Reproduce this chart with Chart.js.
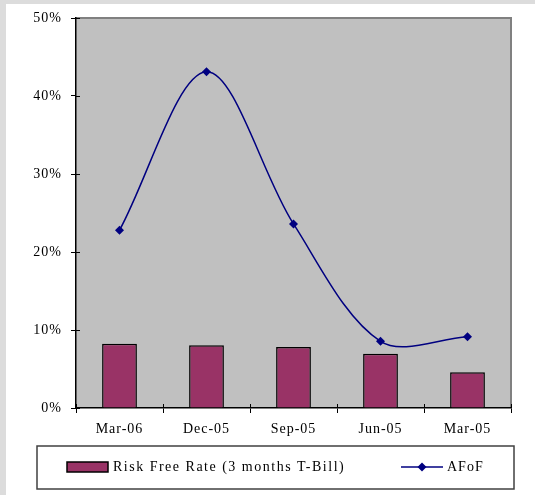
<!DOCTYPE html>
<html>
<head>
<meta charset="utf-8">
<script src="https://cdn.jsdelivr.net/npm/chart.js@4/dist/chart.umd.min.js"></script>
<style>
  html, body { margin: 0; padding: 0; background: #ffffff; }
  #wrap { width: 535px; height: 495px; }
</style>
</head>
<body>
<div id="wrap"><canvas id="c" width="535" height="495"></canvas></div>
<script>
// Quarter-end dates, newest first
const categories = ['Mar-06', 'Dec-05', 'Sep-05', 'Jun-05', 'Mar-05'];
// 3-month T-Bill yield (%)
const riskFreeRate = [8.24, 8.03, 7.82, 6.96, 4.58];
// AFoF return (%)
const afof = [22.8, 43.1, 23.6, 8.55, 9.14];
// Value axis ticks (%)
const yTicks = [0, 10, 20, 30, 40, 50];

const seriesNames = ['Risk Free Rate (3 months T-Bill)', 'AFoF'];
const FONT = '"Liberation Serif", "Times New Roman", serif';

// Page frame, grey plot area, crossing tick marks and the boxed legend
const frame = {
  id: 'frame',
  beforeDraw(chart) {
    const ctx = chart.ctx, a = chart.chartArea;
    ctx.save();
    ctx.fillStyle = '#dcdcdc';
    ctx.fillRect(0, 0, chart.width, chart.height);
    ctx.fillStyle = '#ffffff';
    ctx.fillRect(6, 4, chart.width - 6, chart.height - 4);
    ctx.fillStyle = '#c0c0c0';
    ctx.fillRect(a.left, a.top, a.right - a.left, a.bottom - a.top);
    ctx.strokeStyle = '#808080';
    ctx.lineWidth = 2;
    ctx.beginPath();
    ctx.moveTo(a.left, a.top);
    ctx.lineTo(a.right, a.top);
    ctx.lineTo(a.right, a.bottom);
    ctx.stroke();
    ctx.restore();
    // wide-set lettering used by all chart text
    ctx.letterSpacing = '1px';
  },
  afterDatasetsDraw(chart) {
    const ctx = chart.ctx, a = chart.chartArea;
    const ys = chart.scales.y;
    ctx.save();
    ctx.strokeStyle = '#000000';
    ctx.lineWidth = 1;
    ctx.beginPath();
    yTicks.forEach(v => {
      const y = Math.round(ys.getPixelForValue(v)) + 0.5;
      ctx.moveTo(a.left, y);
      ctx.lineTo(a.left + 4, y);
    });
    const step = (a.right - a.left) / categories.length;
    for (let i = 0; i <= categories.length; i++) {
      const x = Math.round(a.left + i * step) + 0.5;
      ctx.moveTo(x, a.bottom - 4);
      ctx.lineTo(x, a.bottom);
    }
    ctx.stroke();
    ctx.restore();
  },
  afterDraw(chart) {
    const ctx = chart.ctx;
    const ds = chart.data.datasets;
    const bar = ds.find(d => d.type === 'bar');
    const line = ds.find(d => d.type === 'line');
    ctx.save();
    // legend box
    ctx.strokeStyle = '#404040';
    ctx.lineWidth = 1.5;
    ctx.strokeRect(37, 446, 477, 43);
    // bar swatch
    ctx.fillStyle = bar.backgroundColor;
    ctx.fillRect(67, 462, 41, 10);
    ctx.strokeStyle = '#000000';
    ctx.lineWidth = 1.5;
    ctx.strokeRect(67, 462, 41, 10);
    // line swatch
    ctx.strokeStyle = line.borderColor;
    ctx.lineWidth = 1.5;
    ctx.beginPath();
    ctx.moveTo(401, 467);
    ctx.lineTo(443, 467);
    ctx.stroke();
    ctx.fillStyle = line.backgroundColor;
    ctx.beginPath();
    ctx.moveTo(422, 462.5);
    ctx.lineTo(426.5, 467);
    ctx.lineTo(422, 471.5);
    ctx.lineTo(417.5, 467);
    ctx.closePath();
    ctx.fill();
    // labels
    ctx.fillStyle = '#000000';
    ctx.font = '14px ' + FONT;
    ctx.textBaseline = 'middle';
    ctx.textAlign = 'left';
    ctx.letterSpacing = '1.5px';
    ctx.fillText(bar.label, 113, 467);
    ctx.letterSpacing = '1px';
    ctx.fillText(line.label, 447, 467);
    ctx.restore();
  }
};

new Chart(document.getElementById('c'), {
  type: 'bar',
  data: {
    labels: categories,
    datasets: [
      {
        type: 'line',
        label: seriesNames[1],
        data: afof,
        borderColor: '#000080',
        backgroundColor: '#000080',
        borderWidth: 1.5,
        pointStyle: 'rectRot',
        pointRadius: 4.5,
        pointBorderWidth: 0,
        tension: 0.33,
        order: 1
      },
      {
        type: 'bar',
        label: seriesNames[0],
        data: riskFreeRate,
        backgroundColor: '#993366',
        borderColor: '#000000',
        borderWidth: 1.5,
        categoryPercentage: 1,
        barPercentage: 0.4,
        order: 2
      }
    ]
  },
  options: {
    responsive: false,
    animation: false,
    devicePixelRatio: 1,
    layout: { padding: { left: 0, top: 18, right: 24, bottom: 0 } },
    plugins: { legend: { display: false }, tooltip: { enabled: false } },
    scales: {
      x: {
        offset: true,
        grid: { offset: true, drawOnChartArea: false, color: '#000000', tickLength: 5, lineWidth: 1 },
        border: { color: '#000000', width: 1.5 },
        ticks: { color: '#000000', font: { family: FONT, size: 14 }, padding: 8, maxRotation: 0 },
        afterFit(scale) { scale.height = 87; }
      },
      y: {
        min: 0,
        max: 50,
        afterBuildTicks(scale) { scale.ticks = yTicks.map(v => ({ value: v })); },
        grid: { drawOnChartArea: false, color: '#000000', tickLength: 5, lineWidth: 1 },
        border: { color: '#000000', width: 1.5 },
        ticks: { color: '#000000', font: { family: FONT, size: 14 }, padding: 9, callback: v => v + '%' },
        afterFit(scale) { scale.width = 76; }
      }
    }
  },
  plugins: [frame]
});
</script>
</body>
</html>
